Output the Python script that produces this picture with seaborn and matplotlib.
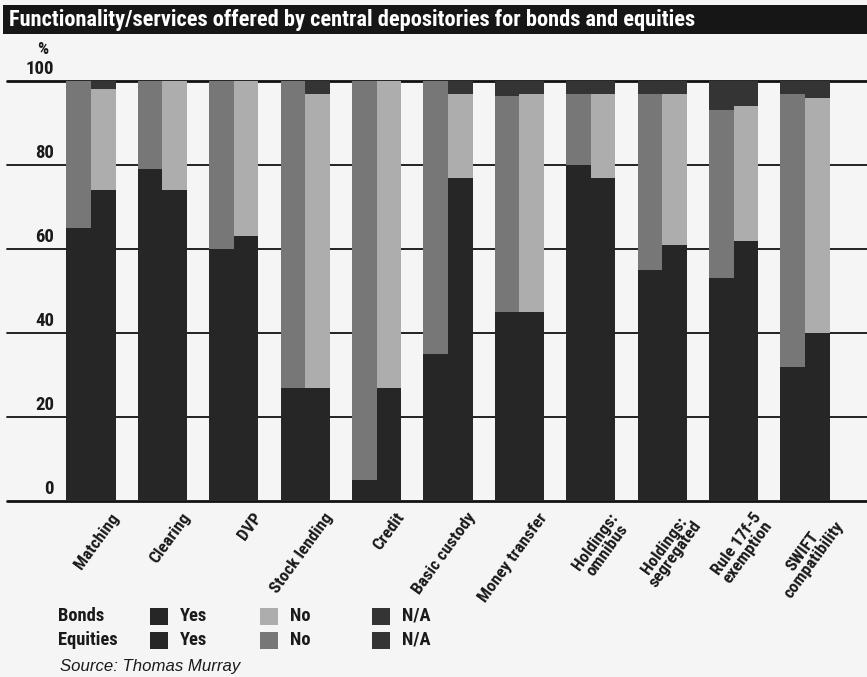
import numpy as np
import pandas as pd
import matplotlib
matplotlib.use("Agg")
import matplotlib.pyplot as plt
from matplotlib import font_manager
from matplotlib.patches import Rectangle
from matplotlib.transforms import blended_transform_factory
import seaborn as sns

# ---------------- data ----------------
categories = ["Matching", "Clearing", "DVP", "Stock lending", "Credit", "Basic custody",
              "Money transfer", "Holdings:\nomnibus", "Holdings:\nsegregated",
              "Rule 17f-5\nexemption", "SWIFT\ncompatibility"]
sides = ["Equities", "Bonds"]          # left bar, right bar

equities_yes = [65, 79, 60, 27, 5, 35, 45, 80, 55, 53, 32]
equities_no = [35, 21, 40, 73, 95, 65, 51.5, 17, 42, 40, 65]
equities_na = [0, 0, 0, 0, 0, 0, 3.5, 3, 3, 7, 3]

bonds_yes = [74, 74, 63, 27, 27, 77, 45, 77, 61, 62, 40]
bonds_no = [24, 26, 37, 70, 73, 20, 52, 20, 36, 32, 56]
bonds_na = [2, 0, 0, 3, 0, 3, 3, 3, 3, 6, 4]

y_ticks = [0, 20, 40, 60, 80, 100]
title = "Functionality/services offered by central depositories for bonds and equities"
source = "Source: Thomas Murray"

# ---------------- styling ----------------
sns.set_style("white")
available = {f.name for f in font_manager.fontManager.ttflist}
cands = ["Liberation Sans Narrow", "Roboto Condensed", "Open Sans Condensed",
         "DejaVu Sans Condensed", "Noto Sans Condensed", "Arial Narrow", "Roboto",
         "Liberation Sans"]
FONT = next((c for c in cands if c in available), "DejaVu Sans")
plt.rcParams["font.family"] = [FONT, "DejaVu Sans"]

BG = "#f5f5f5"
C_YES = "#262626"
C_NA = "#343434"
C_NO_EQ = "#777777"
C_NO_BD = "#adadad"
TXT = "#1a1a1a"

W, H = 867, 677
fig = plt.figure(figsize=(W / 100, H / 100), dpi=100, facecolor=BG)
renderer = fig.canvas.get_renderer()


def fx(px):
    return px / W


def fy(py):
    return 1 - py / H


def fit_size(text, target_px, weight="bold", style="normal", family=None):
    t = fig.text(0, 0, text, fontsize=10, fontweight=weight, style=style,
                 family=family if family else [FONT, "DejaVu Sans"])
    w = t.get_window_extent(renderer).width
    t.remove()
    return 10 * target_px / w


ax_left, ax_right, ax_top, ax_bottom = 7, 867, 81, 501
ax = fig.add_axes([fx(ax_left), fy(ax_bottom), fx(ax_right - ax_left), (ax_bottom - ax_top) / H])
ax.set_facecolor("none")

rows = []
for i, cat in enumerate(categories):
    for side, yes, no, na in (("Equities", equities_yes[i], equities_no[i], equities_na[i]),
                              ("Bonds", bonds_yes[i], bonds_no[i], bonds_na[i])):
        rows.append({"category": cat, "side": side,
                     "yes": yes, "yes_no": yes + no, "total": yes + no + na})
df = pd.DataFrame(rows)

common = dict(data=df, x="category", hue="side", order=categories, hue_order=sides,
              width=0.69, dodge=True, legend=False, ax=ax, saturation=1,
              linewidth=0, errorbar=None)
sns.barplot(y="total", palette=[C_NA, C_NA], **common)
sns.barplot(y="yes_no", palette=[C_NO_EQ, C_NO_BD], **common)
sns.barplot(y="yes", palette=[C_YES, C_YES], **common)

unit = (805 - 91) / 10
ax.set_xlim(-(91 - ax_left) / unit, (ax_right - 91) / unit)
ax.set_ylim(0, 100)

for t in y_ticks:
    lw = 2.0 if t in (0, 100) else 1.3
    ax.axhline(t, color="#111111", lw=lw, zorder=0.5, clip_on=False)

for s in ax.spines.values():
    s.set_visible(False)
ax.set_xticks([])
ax.set_yticks([])
ax.set_xlabel("")
ax.set_ylabel("")

# y labels just above the grid lines
fs_y = 13.5
tr = blended_transform_factory(ax.transAxes, ax.transData)
xl = (54 - ax_left) / (ax_right - ax_left)
for t in y_ticks:
    ax.text(xl, t + 0.7, str(t), transform=tr, ha="right", va="bottom",
            fontsize=fs_y, fontweight="bold", color=TXT, clip_on=False)
fig.text(fx(48), fy(50), "%", ha="right", va="center",
         fontsize=12.5, fontweight="bold", color=TXT)

# category labels
fs_cat = min(fit_size("Stock lending", 95), 14)
for i, cat in enumerate(categories):
    ax.text(i + 0.26, -2.2, cat, ha="right", va="top", rotation=54,
            rotation_mode="anchor", multialignment="center", linespacing=0.92,
            fontsize=fs_cat, fontweight="bold", color=TXT, clip_on=False)

# title bar
fig.patches.append(Rectangle((fx(3), fy(34)), fx(864), 29 / H, transform=fig.transFigure,
                             facecolor="#161616", edgecolor="none", zorder=0))
fs_title = fit_size(title, 688)
fig.text(fx(9), fy(20), title, ha="left", va="center", color="white",
         fontsize=fs_title, fontweight="bold")

# legend
fs_leg = min(fit_size("Equities", 60), 13.5)
rows_y = [616, 640]
labels_row = ["Bonds", "Equities"]
no_cols = [C_NO_BD, C_NO_EQ]
for r, yy in enumerate(rows_y):
    fig.text(fx(58), fy(yy), labels_row[r], ha="left", va="center",
             fontsize=fs_leg, fontweight="bold", color=TXT)
    for (sx, col, lab) in ((150, C_YES, "Yes"), (260, no_cols[r], "No"), (372, C_NA, "N/A")):
        fig.patches.append(Rectangle((fx(sx), fy(yy + 8.5)), fx(18), 17 / H,
                                     transform=fig.transFigure, facecolor=col,
                                     edgecolor="none"))
        fig.text(fx(sx + 30), fy(yy), lab, ha="left", va="center",
                 fontsize=fs_leg, fontweight="bold", color=TXT)

src_fam = ["Liberation Sans", "DejaVu Sans"]
fs_src = fit_size(source, 180, weight="normal", style="italic", family=src_fam)
fig.text(fx(60), fy(667), source, ha="left", va="center", fontsize=fs_src,
         style="italic", family=src_fam, color=TXT)

fig.savefig("out.png", dpi=100, facecolor=BG)
